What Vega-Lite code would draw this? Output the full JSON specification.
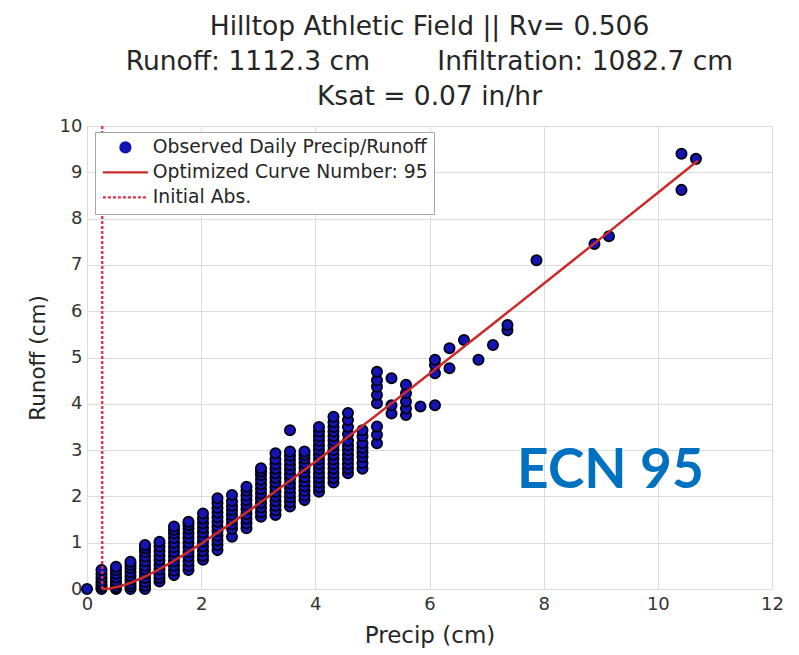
{
  "$schema": "https://vega.github.io/schema/vega-lite/v6.json",
  "width": 685,
  "height": 463,
  "autosize": {"type": "none"},
  "padding": {"left": 87, "top": 126, "right": 27, "bottom": 66},
  "background": "white",
  "title": {
    "text": [
      "Hilltop Athletic Field || Rv= 0.506",
      "Runoff: 1112.3 cm\u00a0\u00a0\u00a0\u00a0\u00a0\u00a0\u00a0\u00a0Infiltration: 1082.7 cm",
      "Ksat = 0.07 in/hr"
    ],
    "font": "DejaVu Sans",
    "fontSize": 26.5,
    "fontWeight": "normal",
    "color": "#262626",
    "lineHeight": 35,
    "anchor": "middle",
    "frame": "group",
    "baseline": "bottom",
    "offset": -20
  },
  "config": {
    "font": "DejaVu Sans",
    "view": {"stroke": "#a6a6a6", "strokeWidth": 1, "fill": "white"},
    "axis": {
      "grid": true,
      "gridColor": "#dcdcdc",
      "gridWidth": 1,
      "ticks": false,
      "domain": false,
      "labelFlush": false,
      "labelFont": "DejaVu Sans",
      "labelFontSize": 18,
      "labelColor": "#333333",
      "titleFont": "DejaVu Sans",
      "titleFontWeight": "normal",
      "titleColor": "#262626"
    },
    "legend": {
      "title": null,
      "orient": "none",
      "legendX": 8,
      "legendY": 6,
      "padding": 6,
      "fillColor": "white",
      "strokeColor": "#a6a6a6",
      "labelFont": "DejaVu Sans",
      "labelFontSize": 18.8,
      "labelColor": "#262626",
      "labelLimit": 400,
      "rowPadding": 5,
      "symbolSize": 100,
      "symbolStrokeWidth": 2.2,
      "symbolOpacity": 1,
      "symbolOffset": 15,
      "labelOffset": 18
    }
  },
  "datasets": {
    "observed": [
      {"precip": 0, "runoff": 0},
      {"precip": 0.254, "runoff": 0}, {"precip": 0.254, "runoff": 0.05}, {"precip": 0.254, "runoff": 0.1}, {"precip": 0.254, "runoff": 0.16}, {"precip": 0.254, "runoff": 0.24}, {"precip": 0.254, "runoff": 0.32}, {"precip": 0.254, "runoff": 0.41},
      {"precip": 0.508, "runoff": 0}, {"precip": 0.508, "runoff": 0.04}, {"precip": 0.508, "runoff": 0.1}, {"precip": 0.508, "runoff": 0.17}, {"precip": 0.508, "runoff": 0.25}, {"precip": 0.508, "runoff": 0.33}, {"precip": 0.508, "runoff": 0.41}, {"precip": 0.508, "runoff": 0.48},
      {"precip": 0.762, "runoff": 0}, {"precip": 0.762, "runoff": 0.06}, {"precip": 0.762, "runoff": 0.12}, {"precip": 0.762, "runoff": 0.2}, {"precip": 0.762, "runoff": 0.28}, {"precip": 0.762, "runoff": 0.36}, {"precip": 0.762, "runoff": 0.45}, {"precip": 0.762, "runoff": 0.52}, {"precip": 0.762, "runoff": 0.59},
      {"precip": 1.016, "runoff": 0}, {"precip": 1.016, "runoff": 0.07}, {"precip": 1.016, "runoff": 0.15}, {"precip": 1.016, "runoff": 0.24}, {"precip": 1.016, "runoff": 0.33}, {"precip": 1.016, "runoff": 0.42}, {"precip": 1.016, "runoff": 0.5}, {"precip": 1.016, "runoff": 0.6}, {"precip": 1.016, "runoff": 0.7}, {"precip": 1.016, "runoff": 0.8}, {"precip": 1.016, "runoff": 0.88}, {"precip": 1.016, "runoff": 0.95},
      {"precip": 1.27, "runoff": 0.16}, {"precip": 1.27, "runoff": 0.24}, {"precip": 1.27, "runoff": 0.32}, {"precip": 1.27, "runoff": 0.42}, {"precip": 1.27, "runoff": 0.52}, {"precip": 1.27, "runoff": 0.62}, {"precip": 1.27, "runoff": 0.72}, {"precip": 1.27, "runoff": 0.82}, {"precip": 1.27, "runoff": 0.92}, {"precip": 1.27, "runoff": 1.02},
      {"precip": 1.524, "runoff": 0.3}, {"precip": 1.524, "runoff": 0.4}, {"precip": 1.524, "runoff": 0.5}, {"precip": 1.524, "runoff": 0.6}, {"precip": 1.524, "runoff": 0.7}, {"precip": 1.524, "runoff": 0.8}, {"precip": 1.524, "runoff": 0.9}, {"precip": 1.524, "runoff": 1.0}, {"precip": 1.524, "runoff": 1.1}, {"precip": 1.524, "runoff": 1.2}, {"precip": 1.524, "runoff": 1.28}, {"precip": 1.524, "runoff": 1.35},
      {"precip": 1.778, "runoff": 0.41}, {"precip": 1.778, "runoff": 0.5}, {"precip": 1.778, "runoff": 0.6}, {"precip": 1.778, "runoff": 0.7}, {"precip": 1.778, "runoff": 0.8}, {"precip": 1.778, "runoff": 0.9}, {"precip": 1.778, "runoff": 1.0}, {"precip": 1.778, "runoff": 1.1}, {"precip": 1.778, "runoff": 1.2}, {"precip": 1.778, "runoff": 1.3}, {"precip": 1.778, "runoff": 1.38}, {"precip": 1.778, "runoff": 1.45},
      {"precip": 2.032, "runoff": 0.63}, {"precip": 2.032, "runoff": 0.72}, {"precip": 2.032, "runoff": 0.82}, {"precip": 2.032, "runoff": 0.92}, {"precip": 2.032, "runoff": 1.02}, {"precip": 2.032, "runoff": 1.12}, {"precip": 2.032, "runoff": 1.22}, {"precip": 2.032, "runoff": 1.32}, {"precip": 2.032, "runoff": 1.42}, {"precip": 2.032, "runoff": 1.52}, {"precip": 2.032, "runoff": 1.63},
      {"precip": 2.286, "runoff": 0.84}, {"precip": 2.286, "runoff": 0.95}, {"precip": 2.286, "runoff": 1.05}, {"precip": 2.286, "runoff": 1.15}, {"precip": 2.286, "runoff": 1.25}, {"precip": 2.286, "runoff": 1.35}, {"precip": 2.286, "runoff": 1.45}, {"precip": 2.286, "runoff": 1.55}, {"precip": 2.286, "runoff": 1.65}, {"precip": 2.286, "runoff": 1.75}, {"precip": 2.286, "runoff": 1.86}, {"precip": 2.286, "runoff": 1.96},
      {"precip": 2.54, "runoff": 1.13}, {"precip": 2.54, "runoff": 1.3}, {"precip": 2.54, "runoff": 1.4}, {"precip": 2.54, "runoff": 1.5}, {"precip": 2.54, "runoff": 1.6}, {"precip": 2.54, "runoff": 1.7}, {"precip": 2.54, "runoff": 1.8}, {"precip": 2.54, "runoff": 1.9}, {"precip": 2.54, "runoff": 2.03},
      {"precip": 2.794, "runoff": 1.31}, {"precip": 2.794, "runoff": 1.42}, {"precip": 2.794, "runoff": 1.52}, {"precip": 2.794, "runoff": 1.62}, {"precip": 2.794, "runoff": 1.72}, {"precip": 2.794, "runoff": 1.82}, {"precip": 2.794, "runoff": 1.92}, {"precip": 2.794, "runoff": 2.02}, {"precip": 2.794, "runoff": 2.12}, {"precip": 2.794, "runoff": 2.21},
      {"precip": 3.048, "runoff": 1.56}, {"precip": 3.048, "runoff": 1.66}, {"precip": 3.048, "runoff": 1.76}, {"precip": 3.048, "runoff": 1.86}, {"precip": 3.048, "runoff": 1.96}, {"precip": 3.048, "runoff": 2.06}, {"precip": 3.048, "runoff": 2.16}, {"precip": 3.048, "runoff": 2.26}, {"precip": 3.048, "runoff": 2.36}, {"precip": 3.048, "runoff": 2.46}, {"precip": 3.048, "runoff": 2.54}, {"precip": 3.048, "runoff": 2.61},
      {"precip": 3.302, "runoff": 1.6}, {"precip": 3.302, "runoff": 1.7}, {"precip": 3.302, "runoff": 1.8}, {"precip": 3.302, "runoff": 1.9}, {"precip": 3.302, "runoff": 2.0}, {"precip": 3.302, "runoff": 2.1}, {"precip": 3.302, "runoff": 2.2}, {"precip": 3.302, "runoff": 2.3}, {"precip": 3.302, "runoff": 2.4}, {"precip": 3.302, "runoff": 2.5}, {"precip": 3.302, "runoff": 2.6}, {"precip": 3.302, "runoff": 2.7}, {"precip": 3.302, "runoff": 2.8}, {"precip": 3.302, "runoff": 2.93},
      {"precip": 3.556, "runoff": 1.78}, {"precip": 3.556, "runoff": 1.88}, {"precip": 3.556, "runoff": 1.98}, {"precip": 3.556, "runoff": 2.08}, {"precip": 3.556, "runoff": 2.18}, {"precip": 3.556, "runoff": 2.28}, {"precip": 3.556, "runoff": 2.38}, {"precip": 3.556, "runoff": 2.48}, {"precip": 3.556, "runoff": 2.58}, {"precip": 3.556, "runoff": 2.68}, {"precip": 3.556, "runoff": 2.78}, {"precip": 3.556, "runoff": 2.88}, {"precip": 3.556, "runoff": 2.97}, {"precip": 3.556, "runoff": 3.43},
      {"precip": 3.81, "runoff": 1.92}, {"precip": 3.81, "runoff": 2.02}, {"precip": 3.81, "runoff": 2.12}, {"precip": 3.81, "runoff": 2.22}, {"precip": 3.81, "runoff": 2.32}, {"precip": 3.81, "runoff": 2.42}, {"precip": 3.81, "runoff": 2.52}, {"precip": 3.81, "runoff": 2.62}, {"precip": 3.81, "runoff": 2.72}, {"precip": 3.81, "runoff": 2.82}, {"precip": 3.81, "runoff": 2.9}, {"precip": 3.81, "runoff": 2.97},
      {"precip": 4.064, "runoff": 2.1}, {"precip": 4.064, "runoff": 2.2}, {"precip": 4.064, "runoff": 2.3}, {"precip": 4.064, "runoff": 2.4}, {"precip": 4.064, "runoff": 2.5}, {"precip": 4.064, "runoff": 2.6}, {"precip": 4.064, "runoff": 2.7}, {"precip": 4.064, "runoff": 2.8}, {"precip": 4.064, "runoff": 2.9}, {"precip": 4.064, "runoff": 3.0}, {"precip": 4.064, "runoff": 3.1}, {"precip": 4.064, "runoff": 3.2}, {"precip": 4.064, "runoff": 3.3}, {"precip": 4.064, "runoff": 3.4}, {"precip": 4.064, "runoff": 3.5},
      {"precip": 4.318, "runoff": 2.3}, {"precip": 4.318, "runoff": 2.4}, {"precip": 4.318, "runoff": 2.5}, {"precip": 4.318, "runoff": 2.6}, {"precip": 4.318, "runoff": 2.7}, {"precip": 4.318, "runoff": 2.8}, {"precip": 4.318, "runoff": 2.9}, {"precip": 4.318, "runoff": 3.0}, {"precip": 4.318, "runoff": 3.1}, {"precip": 4.318, "runoff": 3.2}, {"precip": 4.318, "runoff": 3.3}, {"precip": 4.318, "runoff": 3.4}, {"precip": 4.318, "runoff": 3.5}, {"precip": 4.318, "runoff": 3.6}, {"precip": 4.318, "runoff": 3.72},
      {"precip": 4.572, "runoff": 2.5}, {"precip": 4.572, "runoff": 2.6}, {"precip": 4.572, "runoff": 2.7}, {"precip": 4.572, "runoff": 2.8}, {"precip": 4.572, "runoff": 2.9}, {"precip": 4.572, "runoff": 3.0}, {"precip": 4.572, "runoff": 3.1}, {"precip": 4.572, "runoff": 3.2}, {"precip": 4.572, "runoff": 3.35}, {"precip": 4.572, "runoff": 3.5}, {"precip": 4.572, "runoff": 3.65}, {"precip": 4.572, "runoff": 3.8},
      {"precip": 4.826, "runoff": 2.6}, {"precip": 4.826, "runoff": 2.72}, {"precip": 4.826, "runoff": 2.85}, {"precip": 4.826, "runoff": 2.95}, {"precip": 4.826, "runoff": 3.05}, {"precip": 4.826, "runoff": 3.15}, {"precip": 4.826, "runoff": 3.3}, {"precip": 4.826, "runoff": 3.43},
      {"precip": 5.08, "runoff": 3.15}, {"precip": 5.08, "runoff": 3.33}, {"precip": 5.08, "runoff": 3.51}, {"precip": 5.08, "runoff": 4.01}, {"precip": 5.08, "runoff": 4.19}, {"precip": 5.08, "runoff": 4.37}, {"precip": 5.08, "runoff": 4.51}, {"precip": 5.08, "runoff": 4.69},
      {"precip": 5.334, "runoff": 3.79}, {"precip": 5.334, "runoff": 3.97}, {"precip": 5.334, "runoff": 4.55},
      {"precip": 5.588, "runoff": 3.76}, {"precip": 5.588, "runoff": 3.9}, {"precip": 5.588, "runoff": 4.05}, {"precip": 5.588, "runoff": 4.23}, {"precip": 5.588, "runoff": 4.41},
      {"precip": 5.842, "runoff": 3.94},
      {"precip": 6.096, "runoff": 3.97}, {"precip": 6.096, "runoff": 4.66}, {"precip": 6.096, "runoff": 4.84}, {"precip": 6.096, "runoff": 4.95},
      {"precip": 6.35, "runoff": 4.77}, {"precip": 6.35, "runoff": 5.2},
      {"precip": 6.604, "runoff": 5.38},
      {"precip": 6.858, "runoff": 4.95},
      {"precip": 7.112, "runoff": 5.27},
      {"precip": 7.366, "runoff": 5.59}, {"precip": 7.366, "runoff": 5.7},
      {"precip": 7.874, "runoff": 7.1},
      {"precip": 8.89, "runoff": 7.45},
      {"precip": 9.144, "runoff": 7.62},
      {"precip": 10.414, "runoff": 8.62}, {"precip": 10.414, "runoff": 9.4},
      {"precip": 10.668, "runoff": 9.29}
    ],
    "curve": [
      {"precip": 0.267, "runoff": 0},
      {"precip": 0.4, "runoff": 0.012},
      {"precip": 0.6, "runoff": 0.066},
      {"precip": 0.8, "runoff": 0.152},
      {"precip": 1.0, "runoff": 0.259},
      {"precip": 1.25, "runoff": 0.416},
      {"precip": 1.5, "runoff": 0.591},
      {"precip": 1.75, "runoff": 0.78},
      {"precip": 2.0, "runoff": 0.978},
      {"precip": 2.5, "runoff": 1.396},
      {"precip": 3.0, "runoff": 1.835},
      {"precip": 3.5, "runoff": 2.287},
      {"precip": 4.0, "runoff": 2.748},
      {"precip": 5.0, "runoff": 3.69},
      {"precip": 6.0, "runoff": 4.649},
      {"precip": 7.0, "runoff": 5.617},
      {"precip": 8.0, "runoff": 6.593},
      {"precip": 9.0, "runoff": 7.573},
      {"precip": 10.0, "runoff": 8.557},
      {"precip": 10.7, "runoff": 9.248}
    ],
    "abstraction": [{"initial_abs": 0.2674}],
    "note": [{"label": "ECN 95"}]
  },
  "layer": [
    {
      "data": {"name": "observed"},
      "mark": {"type": "point", "filled": true, "opacity": 1, "size": 105, "stroke": "#000012", "strokeWidth": 1.8},
      "encoding": {
        "x": {
          "field": "precip",
          "type": "quantitative",
          "scale": {"domain": [0, 12], "nice": false, "zero": false},
          "axis": {"title": "Precip (cm)", "values": [0, 2, 4, 6, 8, 10, 12], "format": "d", "labelPadding": 6, "titleFontSize": 23, "titlePadding": 11}
        },
        "y": {
          "field": "runoff",
          "type": "quantitative",
          "scale": {"domain": [0, 10], "nice": false},
          "axis": {"title": "Runoff (cm)", "values": [0, 1, 2, 3, 4, 5, 6, 7, 8, 9, 10], "format": "d", "labelPadding": 5, "titleFontSize": 21.5, "titlePadding": 10}
        },
        "color": {
          "datum": "Observed Daily Precip/Runoff",
          "scale": {
            "domain": ["Observed Daily Precip/Runoff", "Optimized Curve Number: 95", "Initial Abs."],
            "range": ["#1414b4", "#cc2a2a", "#e0304a"]
          }
        },
        "shape": {
          "datum": "Observed Daily Precip/Runoff",
          "scale": {
            "domain": ["Observed Daily Precip/Runoff", "Optimized Curve Number: 95", "Initial Abs."],
            "range": [
              "circle",
              "M-4.5,0H4.5",
              "M-4.5,0H-3.9M-3.5,0H-2.9M-2.5,0H-1.9M-1.5,0H-0.9M-0.5,0H0.1M0.5,0H1.1M1.5,0H2.1M2.5,0H3.1M3.5,0H4.1"
            ]
          }
        }
      }
    },
    {
      "data": {"name": "curve"},
      "mark": {"type": "line", "strokeWidth": 2.5},
      "encoding": {
        "x": {"field": "precip", "type": "quantitative"},
        "y": {"field": "runoff", "type": "quantitative"},
        "color": {
          "datum": "Optimized Curve Number: 95",
          "scale": {"domain": ["Observed Daily Precip/Runoff", "Optimized Curve Number: 95", "Initial Abs."]}
        }
      }
    },
    {
      "data": {"name": "abstraction"},
      "mark": {"type": "rule", "strokeWidth": 2.3, "strokeDash": [3, 2]},
      "encoding": {
        "x": {"field": "initial_abs", "type": "quantitative"},
        "y": {"datum": 0, "type": "quantitative"},
        "y2": {"datum": 10},
        "color": {
          "datum": "Initial Abs.",
          "scale": {"domain": ["Observed Daily Precip/Runoff", "Optimized Curve Number: 95", "Initial Abs."]}
        }
      }
    },
    {
      "data": {"name": "note"},
      "mark": {"type": "text", "font": "Lato", "fontWeight": "bold", "fontSize": 55, "color": "#0070C0", "align": "center", "baseline": "alphabetic"},
      "encoding": {
        "x": {"datum": 9.17, "type": "quantitative"},
        "y": {"datum": 2.18, "type": "quantitative"},
        "text": {"field": "label", "type": "nominal"}
      }
    }
  ]
}
